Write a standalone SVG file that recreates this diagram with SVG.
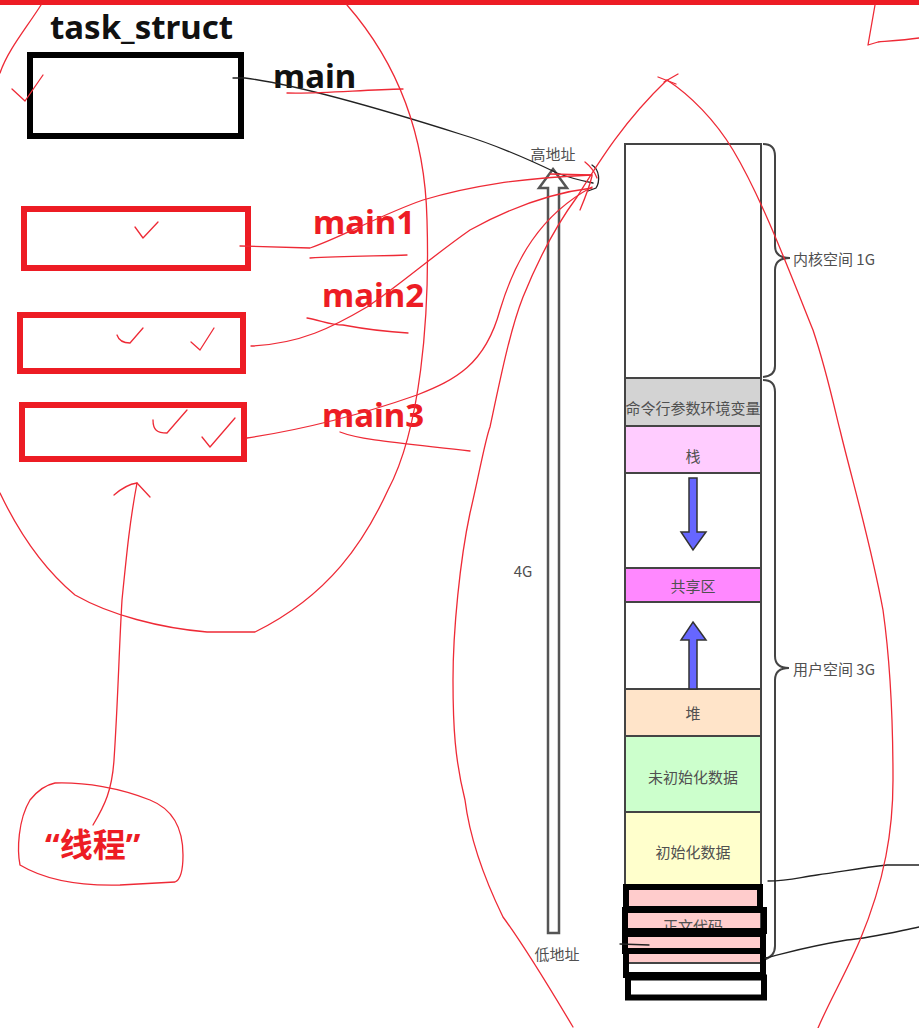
<svg xmlns="http://www.w3.org/2000/svg" width="919" height="1028" viewBox="0 0 919 1028">
<style>
.blk{fill:none;stroke:#000;stroke-width:6}
.redbox{fill:none;stroke:#ed1c24;stroke-width:6}
.pen{fill:none;stroke:#ee2a36;stroke-width:1.3;stroke-linecap:round;stroke-linejoin:round}
.ink{fill:none;stroke:#222;stroke-width:1.3;stroke-linecap:round}
.bigb{font-family:"Noto Sans","Noto Sans CJK SC",sans-serif;font-weight:700;font-size:33px}
.lbl{font-family:"Noto Sans CJK SC","Noto Sans",sans-serif;font-size:15px;fill:#505050;text-anchor:middle;dominant-baseline:central}
.seg{stroke:#444;stroke-width:2}
.brace{fill:none;stroke:#444;stroke-width:2}
.blue{fill:#6666ff;stroke:#333;stroke-width:1.5}
</style>
<rect x="0" y="0" width="919" height="1028" fill="#fff"/>
<rect x="0" y="0" width="919" height="5" fill="#ed1c24"/>

<g id="task_struct">
<text x="50" y="39" class="bigb" font-size="31" fill="#111">task_struct</text>
<rect x="30" y="55" width="211" height="81" class="blk"/>
</g>
<g id="main-label"><text x="273" y="88" class="bigb" fill="#111">main</text></g>
<g id="thread1"><rect x="24" y="209" width="224" height="59" class="redbox"/></g>
<g id="thread2"><rect x="20" y="315" width="223" height="56" class="redbox"/></g>
<g id="thread3"><rect x="22" y="405" width="222" height="54" class="redbox"/></g>
<g id="main1-label"><text x="313" y="234" class="bigb" fill="#ed1c24">main1</text></g>
<g id="main2-label"><text x="322" y="307" class="bigb" fill="#ed1c24">main2</text></g>
<g id="main3-label"><text x="322" y="427" class="bigb" fill="#ed1c24">main3</text></g>
<g id="thread-label"><text x="45" y="857" class="bigb" font-size="34" fill="#ed1c24">“线程”</text></g>

<g id="address-space">
<rect x="625" y="144" width="136" height="234" fill="#fff" class="seg"/>
<rect x="625" y="378" width="136" height="48" fill="#d3d3d3" class="seg"/>
<rect x="625" y="426" width="136" height="47" fill="#ffccff" class="seg"/>
<rect x="625" y="473" width="136" height="95" fill="#fff" class="seg"/>
<rect x="625" y="568" width="136" height="34" fill="#ff88ff" class="seg"/>
<rect x="625" y="602" width="136" height="87" fill="#fff" class="seg"/>
<rect x="625" y="689" width="136" height="47" fill="#ffe4c9" class="seg"/>
<rect x="625" y="736" width="136" height="76" fill="#ccffcc" class="seg"/>
<rect x="625" y="812" width="136" height="73" fill="#ffffcc" class="seg"/>
<rect x="625" y="885" width="136" height="78" fill="#ffcccc" class="seg"/>
<text x="693" y="407" class="lbl">命令行参数环境变量</text>
<text x="693" y="455" class="lbl">栈</text>
<text x="693" y="585" class="lbl">共享区</text>
<text x="693" y="712" class="lbl">堆</text>
<text x="693" y="776" class="lbl">未初始化数据</text>
<text x="693" y="851" class="lbl">初始化数据</text>
<text x="693" y="925" class="lbl">正文代码</text>
<path class="blue" d="M689,478 L697,478 L697,532 L706,532 L693,550 L681,532 L689,532 Z"/>
<path class="blue" d="M693,622 L706,640 L697,640 L697,689 L689,689 L689,640 L681,640 Z"/>
<path class="brace" d="M763,144 Q775,144 775,156 L775,246 Q775,258 790,258 Q775,258 775,270 L775,366 Q775,376 763,377"/>
<path class="brace" d="M763,380 Q775,380 775,392 L775,656 Q775,668 789,668 Q775,668 775,680 L775,946 Q775,957 763,960"/>
<text x="793" y="258" class="lbl" style="text-anchor:start">内核空间 1G</text>
<text x="793" y="668" class="lbl" style="text-anchor:start">用户空间 3G</text>
</g>

<g id="address-arrow">
<path d="M553,169 L567,188 L559,188 L559,933 L548,933 L548,188 L539,188 Z" fill="#fff" stroke="#555" stroke-width="2.5"/>
<text x="553" y="153" class="lbl">高地址</text>
<text x="557" y="953" class="lbl">低地址</text>
<text x="523" y="570" class="lbl" font-size="16">4G</text>
</g>

<g id="text-overlay">
<rect x="626" y="887" width="134" height="22" class="blk"/>
<rect x="625" y="910" width="139" height="21" class="blk"/>
<rect x="625" y="934" width="138" height="17" class="blk"/>
<rect x="626" y="951" width="137" height="24" class="blk"/>
<rect x="628" y="977.5" width="136" height="20" class="blk"/>
</g>

<g id="connectors">
<path class="ink" d="M233,78 L245,78 C300,85 400,115 460,134 C500,146 530,160 557,173 C570,178 583,181 593,183"/>
<path class="ink" d="M592,165 C600,170 600,182 596,188 L588,191"/>
<path class="ink" d="M768,881 C790,881 800,877 817,875 C840,872 860,868 887,865 L919,865"/>
<path class="ink" d="M765,958 C790,952 805,947 847,940 C870,938 890,933 919,927"/>
<path class="ink" d="M620,944 L649,945"/>
<path class="pen" d="M240,246 L310,248 C340,238 380,215 423,200 C470,186 520,178 592,175"/>
<path class="pen" d="M251,346 C300,344 333,327 367,307 C400,285 430,258 470,230 C510,208 550,193 592,188"/>
<path class="pen" d="M247,438 C300,430 360,415 417,395 C455,380 485,365 500,310 C515,260 540,215 592,187"/>
<path class="pen" d="M137,483 C130,520 127,550 122,600 C119,650 118,700 114,760 C112,790 105,805 93,825"/>
<path class="pen" d="M114,495 C122,488 130,484 137,483 L150,497"/>
</g>

<g id="annotations">
<path class="pen" d="M347,5 C395,60 425,130 427,220 C430,320 420,430 388,490 C365,540 330,595 255,632 L207,632 C160,628 110,615 75,595 C45,570 20,535 0,493"/>
<path class="pen" d="M41,5 C25,30 8,50 0,73"/>
<path class="pen" d="M55,783 C85,782 120,788 150,800 C175,810 183,830 183,855 C183,870 180,880 175,882 L120,885 C80,886 45,880 20,865 C17,850 18,820 30,800 C38,790 45,785 55,783 Z"/>
<path class="pen" d="M287,93 C320,94 360,90 403,89"/>
<path class="pen" d="M310,258 C340,256 380,256 407,255"/>
<path class="pen" d="M307,318 C320,320 330,325 343,325 C370,330 390,332 408,333"/>
<path class="pen" d="M340,432 C360,440 400,443 470,451"/>
<path class="pen" d="M573,1027 C545,980 520,940 503,917 C485,880 470,840 465,800 C455,760 453,727 453,680 C453,630 460,560 470,513 C478,480 485,440 490,427 C500,380 510,330 523,297 C540,255 560,220 577,197 C600,160 625,120 667,80 C690,95 715,120 733,150 C760,195 785,260 813,330 C828,375 837,420 840,430 C852,480 870,540 883,610 C890,660 893,720 893,780 C893,830 885,880 860,940 C845,975 830,1000 818,1028"/>
<path class="pen" d="M658,77 L676,84 M678,74 L664,82"/>
<path class="pen" d="M875,5 L868,45 L878,42 C890,41 905,40 919,38"/>
<path class="pen" d="M550,174 L592,175 M580,210 C585,198 590,185 592,176 M585,162 C590,166 594,170 597,178"/>
<path class="pen" d="M12,89 L25,101 L43,75"/>
<path class="pen" d="M135,227 L143,238 L158,222"/>
<path class="pen" d="M117,335 C119,341 123,343 130,343 L143,328"/>
<path class="pen" d="M191,342 L200,350 L214,328"/>
<path class="pen" d="M153,420 C153,430 157,433 167,433 L187,410"/>
<path class="pen" d="M202,437 L210,447 L235,418"/>
</g>
</svg>
